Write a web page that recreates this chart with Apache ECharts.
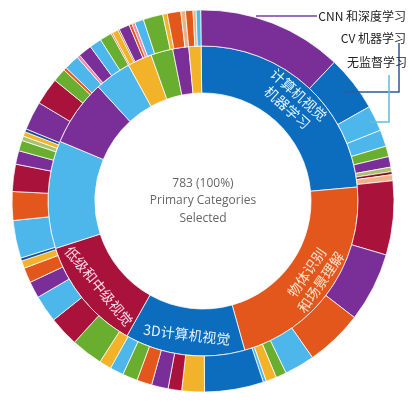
<!DOCTYPE html>
<html lang="zh">
<head>
<meta charset="UTF-8">
<title>Primary Categories</title>
<script src="https://cdn.jsdelivr.net/npm/echarts@6/dist/echarts.min.js"></script>
<style>
  html, body { margin: 0; padding: 0; background: #fff; }
  #main { width: 413px; height: 408px; }
</style>
</head>
<body>
<div id="main"></div>
<script>
// inner ring: primary categories (783 in total)
var innerNames = ['计算机视觉\n机器学习', '物体识别\n和场景理解', '3D计算机视觉', '低级和中级视觉', '', '', '', '', '', '', ''];
var innerValues = [186, 173, 98, 93, 88, 54, 30, 20, 18, 13, 10];
var innerColors = ['blue', 'orange', 'blue', 'crimson', 'lightblue', 'purple', 'lightblue', 'yellow', 'green', 'purple', 'yellow'];

// outer ring: sub categories, clockwise from the top
var outerValues = [96, 37, 17, 11, 7, 7, 3, 2, 4,
  49, 46, 38, 20, 7, 7, 2,
  39, 15, 9, 11, 10, 10, 9, 8,
  21, 20, 18, 11, 10, 5, 2,
  25, 19, 18, 9, 7, 3, 3, 2,
  19, 18, 9, 2, 10, 2, 9, 8, 8,
  1, 4, 1, 7, 2, 2, 6, 13, 3,
  9, 3, 5, 2, 3];
var outerColors = ['purple', 'blue', 'lightblue', 'lightblue', 'green', 'purple', 'olive', 'darkred', 'peach',
  'crimson', 'purple', 'orange', 'lightblue', 'green', 'yellow', 'lightblue',
  'blue', 'yellow', 'crimson', 'purple', 'orange', 'green', 'lightblue', 'yellow',
  'green', 'crimson', 'lightblue', 'purple', 'orange', 'yellow', 'darkblue',
  'lightblue', 'orange', 'crimson', 'purple', 'green', 'olive', 'yellow', 'darkblue',
  'purple', 'crimson', 'green', 'orange', 'lightblue', 'pink', 'purple', 'lightblue', 'green',
  'orange', 'yellow', 'brown', 'purple', 'orange', 'pink', 'lightblue', 'green', 'yellow',
  'orange', 'tan', 'orange', 'tan', 'lightblue'];

// callouts at the top right
var calloutLabels = ['CNN 和深度学习', 'CV 机器学习', '无监督学习'];
var centerLabel = '783 (100%)\nPrimary Categories\nSelected';

var palette = {
  blue: '#0c6dbf', lightblue: '#4db6ea', purple: '#7a2e98', crimson: '#a8123b',
  orange: '#e4571c', green: '#6aae2f', yellow: '#f2b22a', darkblue: '#1d4f91',
  peach: '#f2b08c', tan: '#e2b48a', olive: '#a8c46a', darkred: '#8a1020',
  pink: '#f08aa8', brown: '#b0561e'
};
var labelTint = { blue: '#e2f4ff', orange: '#ffe2cf', crimson: '#ffdbe6' };

function slices(values, colors, names) {
  return values.map(function (v, i) {
    return {
      value: v,
      name: names ? names[i] : '',
      itemStyle: { color: palette[colors[i]] },
      label: { color: labelTint[colors[i]] || '#fff' }
    };
  });
}

var chart = echarts.init(document.getElementById('main'));
var ringBorder = { borderColor: 'rgba(255,255,255,0.75)', borderWidth: 1 };
var cjk = '"Noto Sans CJK SC", sans-serif';

var option = {
  animation: false,
  series: [
    {
      type: 'pie',
      center: [203, 201],
      radius: [108, 155],
      startAngle: 90.7,
      clockwise: true,
      silent: true,
      data: slices(innerValues, innerColors, innerNames),
      label: {
        show: true,
        position: 'inside',
        rotate: 'tangential',
        formatter: '{b}',
        fontSize: 14,
        lineHeight: 17,
        fontFamily: cjk
      },
      labelLine: { show: false },
      itemStyle: ringBorder
    },
    {
      type: 'pie',
      center: [203, 201],
      radius: [155, 191],
      startAngle: 90.7,
      clockwise: true,
      silent: true,
      data: slices(outerValues, outerColors),
      label: { show: false },
      labelLine: { show: false },
      itemStyle: ringBorder
    }
  ],
  graphic: [
    {
      type: 'text', x: 203, y: 201, z: 10,
      style: {
        text: centerLabel, fill: '#666', font: '12px "Open Sans"',
        align: 'center', verticalAlign: 'middle', lineHeight: 17.5
      }
    },
    { type: 'polyline', z: 10, shape: { points: [[256, 16], [317, 16]] }, style: { stroke: '#7b3f9e', lineWidth: 1.5, fill: null } },
    { type: 'polyline', z: 10, shape: { points: [[344, 92], [399, 92], [399, 43]] }, style: { stroke: '#2c5a9a', lineWidth: 1.5, fill: null } },
    { type: 'polyline', z: 10, shape: { points: [[370, 122], [389, 122], [389, 75]] }, style: { stroke: '#5cc0dc', lineWidth: 1.5, fill: null } },
    { type: 'text', x: 406, y: 16, z: 11, style: { text: calloutLabels[0], fill: '#222', font: '12px ' + cjk, align: 'right', verticalAlign: 'middle' } },
    { type: 'text', x: 406, y: 38.5, z: 11, style: { text: calloutLabels[1], fill: '#222', font: '12px ' + cjk, align: 'right', verticalAlign: 'middle' } },
    { type: 'text', x: 407, y: 62.5, z: 11, style: { text: calloutLabels[2], fill: '#222', font: '12px ' + cjk, align: 'right', verticalAlign: 'middle' } }
  ]
};
chart.setOption(option);
</script>
</body>
</html>
